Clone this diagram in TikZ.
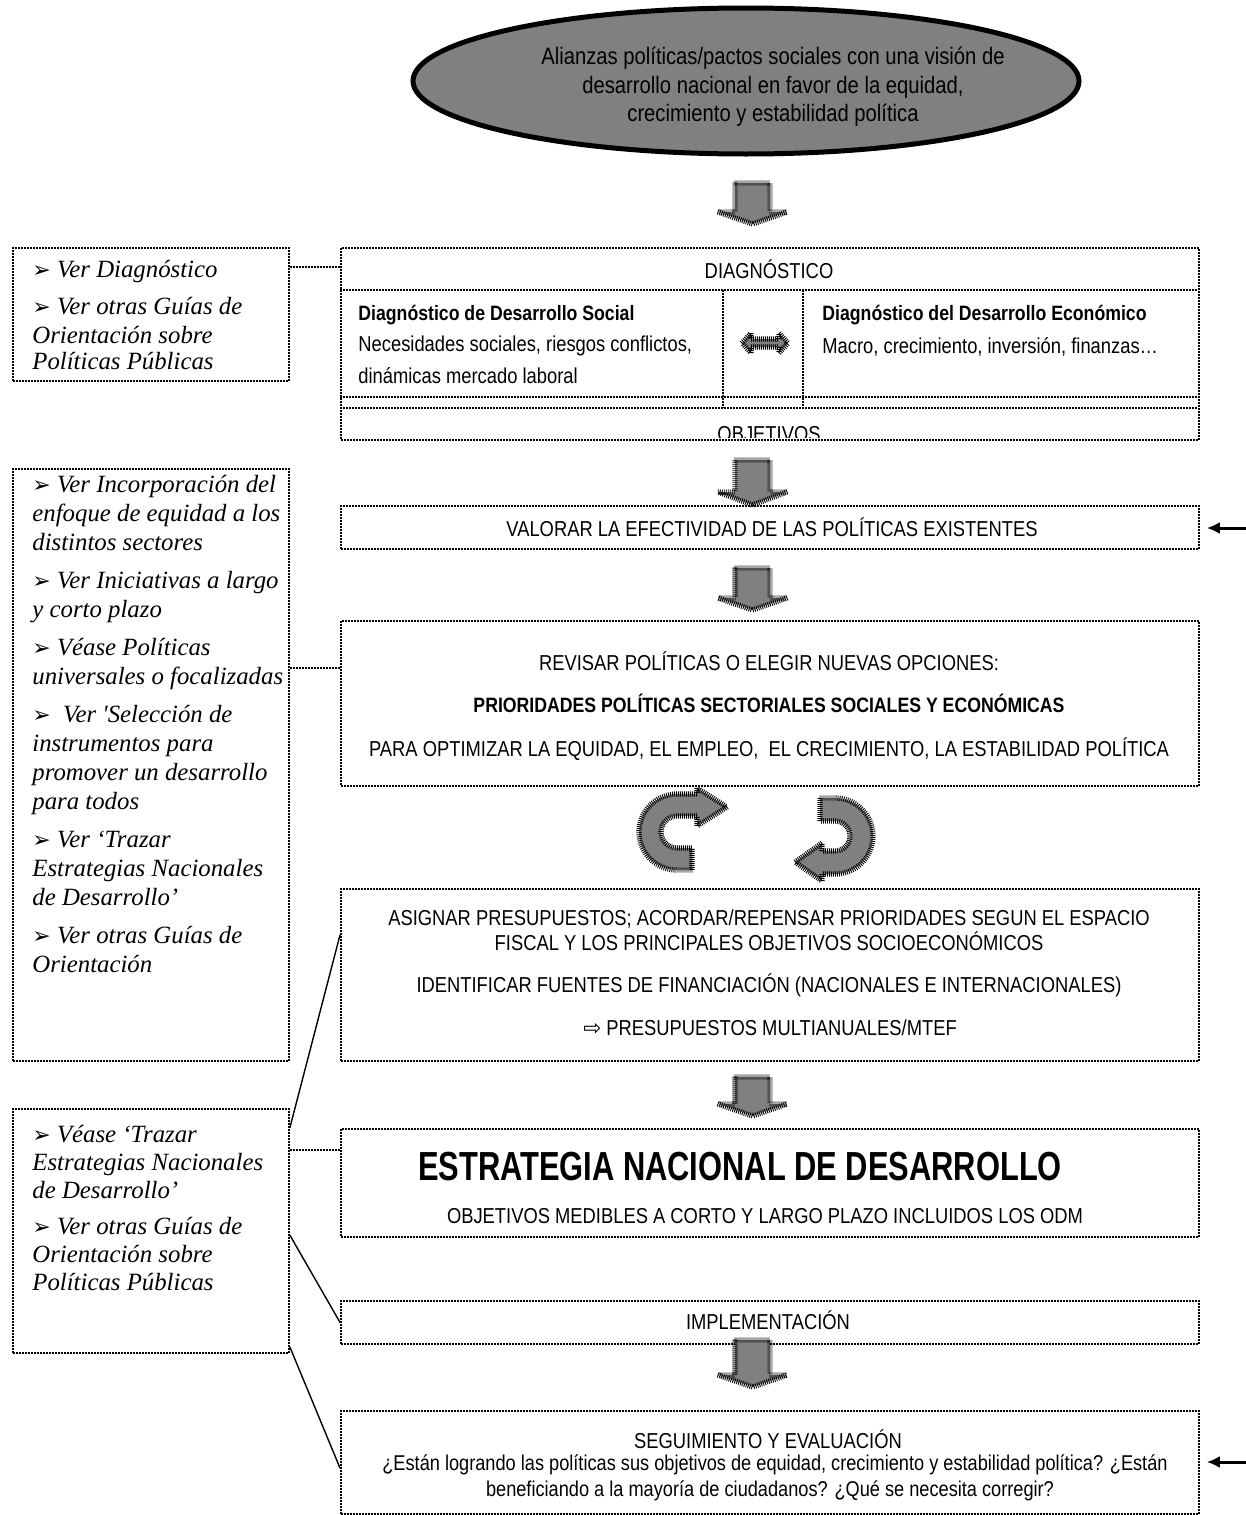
\documentclass[tikz,border=0pt]{standalone}
\usepackage{fontspec}
\setmainfont{Liberation Sans}[FakeStretch=0.85]
\newfontfamily\guidefont{Liberation Serif}
\newfontfamily\symbolfont{DejaVu Sans}
\newfontfamily\titlefont{Liberation Sans}[FakeStretch=0.76]
\usetikzlibrary{arrows.meta, shapes.geometric, decorations.pathreplacing}

\newcommand{\guidebullet}{{\symbolfont\fontsize{11}{11}\selectfont ➢}\ }

\tikzset{
  dotline/.style={line width=0.9pt, dash pattern=on 1pt off 0.5pt},
  box/.style={draw, dotline, anchor=north west, inner sep=0pt},
  guidebox/.style={box, minimum width=138pt},
  stagebox/.style={box, minimum width=429pt},
  alliance/.style={draw=black, line width=2.5pt, fill=gray, ellipse, inner sep=0pt, minimum width=333pt, minimum height=73pt},
  alliancetext/.style={align=center, inner sep=0pt, font=\fontsize{11.9}{14.25}\selectfont},
  stagetext/.style={anchor=base, inner sep=0pt, font=\fontsize{10.8}{13}\selectfont},
  stagebold/.style={stagetext, font=\bfseries\fontsize{10.4}{13}\selectfont},
  celltext/.style={stagetext, anchor=base west},
  cellbold/.style={stagebold, anchor=base west},
  guidetext/.style={anchor=base west, inner sep=0pt, font=\guidefont\itshape\fontsize{12.4}{14}\selectfont},
  pointer/.style={line width=0.7pt},
  feedback/.style={line width=1.5pt, shorten >=3.5pt, -{Latex[length=6.5pt, width=6pt]}},
  blockarrow/.style={fill=gray, postaction={draw, decorate, decoration={ticks, segment length=1pt, amplitude=1.3pt}, line width=0.45pt}},
}

\begin{document}
\begin{tikzpicture}[x=0.5pt, y=-0.5pt]
    \useasboundingbox (0,0) rectangle (1246,1515);

    % draw top ellipse
    \node[alliance] (alianzas) at (746,81) {};
    \node[alliancetext] (alianzastext) at (773,87) {Alianzas políticas/pactos sociales con una visión de\\desarrollo nacional en favor de la equidad,\\crecimiento y estabilidad política};

    % draw guide boxes
    \node[guidebox, minimum height=66.5pt] (guide1) at (12,247) {};
    \node[guidebox, minimum height=296pt] (guide2) at (12,468) {};
    \node[guidebox, minimum height=122pt] (guide3) at (12,1108) {};

    % draw stage boxes
    \node[stagebox, minimum height=96pt] (diag) at (340,247) {};
    \node[stagebox, minimum height=21.5pt] (valorar) at (340,505) {};
    \node[stagebox, minimum height=82.5pt] (revisar) at (340,620) {};
    \node[stagebox, minimum height=86pt] (asignar) at (340,888) {};
    \node[stagebox, minimum height=54pt] (estrategia) at (340,1128) {};
    \node[stagebox, minimum height=21.5pt] (implementacion) at (340,1300) {};
    \node[stagebox, minimum height=51.5pt] (seguimiento) at (340,1410) {};

    % draw inner lines of diagnosis box
    \draw[dotline] (340,290) -- (1198,290);
    \draw[dotline] (340,397) -- (1198,397);
    \draw[dotline] (340,408) -- (1198,408);
    \draw[dotline] (723,290) -- (723,408);
    \draw[dotline] (803,290) -- (803,408);

    % draw links from guides
    \coordinate (c1) at (0,267);
    \draw[dotline] (guide1.east |- c1) -- (diag.west |- c1);
    \coordinate (c2) at (0,668);
    \draw[dotline] (guide2.east |- c2) -- (revisar.west |- c2);
    \coordinate (c3) at (0,1150);
    \draw[dotline] (guide3.east |- c3) -- (estrategia.west |- c3);
    \draw[pointer] ([yshift=-10pt]guide3.north east) -- ([yshift=-23.5pt]asignar.north west);
    \draw[pointer] ([yshift=-63.5pt]guide3.north east) -- (implementacion.west);
    \draw[pointer] ([yshift=3.5pt]guide3.south east) -- ([yshift=-29pt]seguimiento.north west);

    % draw feedback arrows
    \coordinate (f1) at (1246,528);
    \draw[feedback] (f1) -- (valorar.east |- f1);
    \coordinate (f2) at (1246,1462);
    \draw[feedback] (f2) -- (seguimiento.east |- f2);

    % draw block arrows
    \foreach \ytop/\yneck/\ytip in {183/212/224, 460/492/505, 568/598/610, 1077/1104/1116, 1340/1375/1387}
        \path[blockarrow] (735,\ytop) -- (770,\ytop) -- (770,\yneck) -- (787,\yneck) -- (752.5,\ytip) -- (718,\yneck) -- (735,\yneck) -- cycle;
    \path[blockarrow] (742,343) -- (751,333) -- (751,339) -- (779,339) -- (779,333) -- (788,343) -- (779,353) -- (779,347) -- (751,347) -- (751,353) -- cycle;
    \path[blockarrow] (692,870) -- (677,870) arc[start angle=90, end angle=270, radius=38] -- (697,794) -- (697,788) -- (727,807) -- (697,826) -- (697,816) -- (677,816) arc[start angle=270, end angle=90, radius=16] -- (692,848) -- cycle;
    \path[blockarrow] (820,798) -- (835,798) arc[start angle=270, end angle=450, radius=38] -- (822,874) -- (822,881) -- (795,862) -- (822,843) -- (822,851) -- (835,851) arc[start angle=90, end angle=-90, radius=15] -- (820,821) -- cycle;

    % draw guide texts
    \foreach \y/\t in {277/{\guidebullet Ver Diagnóstico}, 314/{\guidebullet Ver otras Guías de}, 343/{Orientación sobre}, 369/{Políticas Públicas}}
        \node[guidetext] (ga\y) at (32,\y) {\t};
    \foreach \y/\t in {492/{\guidebullet Ver Incorporación del}, 521/{enfoque de equidad a los}, 550/{distintos sectores},
                       588/{\guidebullet Ver Iniciativas a largo}, 617/{y corto plazo},
                       655/{\guidebullet Véase Políticas}, 684/{universales o focalizadas},
                       722/{\guidebullet\ Ver \textquotesingle Selección de}, 751/{instrumentos para}, 780/{promover un desarrollo}, 809/{para todos},
                       847/{\guidebullet Ver ‘Trazar}, 876/{Estrategias Nacionales}, 905/{de Desarrollo’},
                       943/{\guidebullet Ver otras Guías de}, 972/{Orientación}}
        \node[guidetext] (gb\y) at (32,\y) {\t};
    \foreach \y/\t in {1142/{\guidebullet Véase ‘Trazar}, 1170/{Estrategias Nacionales}, 1198/{de Desarrollo’},
                       1234/{\guidebullet Ver otras Guías de}, 1262/{Orientación sobre}, 1290/{Políticas Públicas}}
        \node[guidetext] (gc\y) at (32,\y) {\t};

    % draw stage texts
    \node[stagetext] (diagtitle) at (769,278) {DIAGNÓSTICO};
    \node[cellbold] (socialtitle) at (358,320) {Diagnóstico de Desarrollo Social};
    \node[celltext] (social1) at (358,351) {Necesidades sociales, riesgos conflictos,};
    \node[celltext] (social2) at (358,383) {dinámicas mercado laboral};
    \node[cellbold] (ecotitle) at (822,320) {Diagnóstico del Desarrollo Económico};
    \node[celltext] (eco1) at (822,353) {Macro, crecimiento, inversión, finanzas…};
    \begin{scope}
        \clip (340,408) rectangle (1198,437);
        \node[stagetext] (objetivos) at (769,441) {OBJETIVOS};
    \end{scope}

    \node[stagetext] (valorartext) at (772,536) {VALORAR LA EFECTIVIDAD DE LAS POLÍTICAS EXISTENTES};

    \node[stagetext] (revisar1) at (769,670) {REVISAR POLÍTICAS O ELEGIR NUEVAS OPCIONES:};
    \node[stagebold] (revisar2) at (769,712) {PRIORIDADES POLÍTICAS SECTORIALES SOCIALES Y ECONÓMICAS};
    \node[stagetext] (revisar3) at (769,756) {PARA OPTIMIZAR LA EQUIDAD, EL EMPLEO, \ EL CRECIMIENTO, LA ESTABILIDAD POLÍTICA};

    \node[stagetext] (asignar1) at (769,925) {ASIGNAR PRESUPUESTOS; ACORDAR/REPENSAR PRIORIDADES SEGUN EL ESPACIO};
    \node[stagetext] (asignar2) at (769,950) {FISCAL Y LOS PRINCIPALES OBJETIVOS SOCIOECONÓMICOS};
    \node[stagetext] (asignar3) at (769,992) {IDENTIFICAR FUENTES DE FINANCIACIÓN (NACIONALES E INTERNACIONALES)};
    \node[stagetext] (asignar4) at (770,1035) {{\symbolfont ⇨}\ PRESUPUESTOS MULTIANUALES/MTEF};

    \node[stagetext, font=\titlefont\bfseries\fontsize{20.3}{22}\selectfont] (estrategiatitle) at (740,1180) {ESTRATEGIA NACIONAL DE DESARROLLO};
    \node[stagetext] (estrategia1) at (765,1223) {OBJETIVOS MEDIBLES A CORTO Y LARGO PLAZO INCLUIDOS LOS ODM};

    \node[stagetext] (implementaciontext) at (768,1329) {IMPLEMENTACIÓN};

    \node[stagetext] (seguimiento1) at (768,1448) {SEGUIMIENTO Y EVALUACIÓN};
    \node[stagetext, font=\fontsize{10.7}{12}\selectfont] (seguimiento2) at (775,1470) {¿Están logrando las políticas sus objetivos de equidad, crecimiento y estabilidad política? ¿Están};
    \node[stagetext, font=\fontsize{10.7}{12}\selectfont] (seguimiento3) at (770,1496) {beneficiando a la mayoría de ciudadanos? ¿Qué se necesita corregir?};
\end{tikzpicture}
\end{document}
